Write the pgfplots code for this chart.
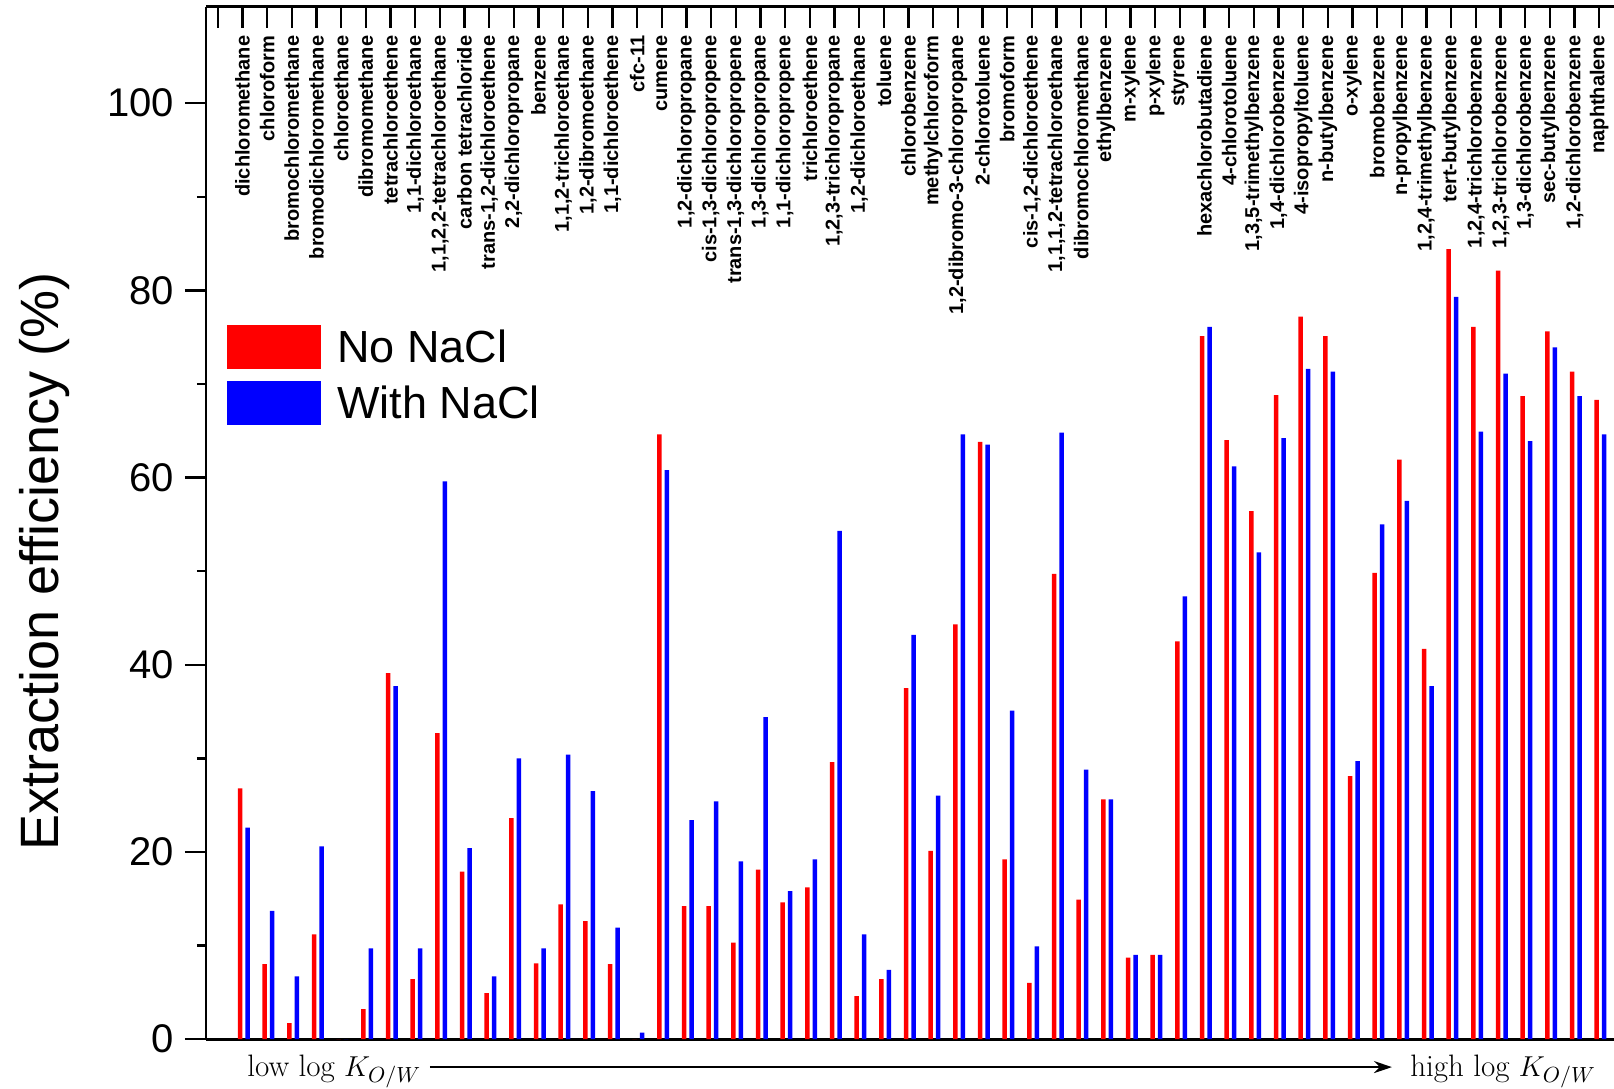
\documentclass[border=0pt]{standalone}
\usepackage{fontspec}
\usepackage{pgfplots}
\pgfplotsset{compat=1.18}
\usetikzlibrary{arrows.meta}
\newfontfamily\arial{Liberation Sans}

\begin{document}
\begin{tikzpicture}
\begin{axis}[
  name=ax,
  at={(0,0)}, anchor=south west,
  scale only axis, width=704pt, height=516.2pt,
  xmin=-0.48, xmax=56.6, ymin=0, ymax=110.3,
  axis y line*=left,
  axis line style={line width=1.4pt, black},
  clip=false,
  xtick={0,...,56},
  xticklabels={,dichloromethane,chloroform,bromochloromethane,bromodichloromethane,chloroethane,dibromomethane,tetrachloroethene,{1,1-dichloroethane},{1,1,2,2-tetrachloroethane},carbon tetrachloride,{trans-1,2-dichloroethene},{2,2-dichloropropane},benzene,{1,1,2-trichloroethane},{1,2-dibromoethane},{1,1-dichloroethene},cfc-11,cumene,{1,2-dichloropropane},{cis-1,3-dichloropropene},{trans-1,3-dichloropropene},{1,3-dichloropropane},{1,1-dichloropropene},trichloroethene,{1,2,3-trichloropropane},{1,2-dichloroethane},toluene,chlorobenzene,methylchloroform,{1,2-dibromo-3-chloropropane},2-chlorotoluene,bromoform,{cis-1,2-dichloroethene},{1,1,1,2-tetrachloroethane},dibromochloromethane,ethylbenzene,m-xylene,p-xylene,styrene,hexachlorobutadiene,4-chlorotoluene,{1,3,5-trimethylbenzene},{1,4-dichlorobenzene},4-isopropyltoluene,n-butylbenzene,o-xylene,bromobenzene,n-propylbenzene,{1,2,4-trimethylbenzene},tert-butylbenzene,{1,2,4-trichlorobenzene},{1,2,3-trichlorobenzene},{1,3-dichlorobenzene},sec-butylbenzene,{1,2-dichlorobenzene},naphthalene},
  xtick pos=right,
  xticklabel pos=right,
  xtick align=inside,
  ytick align=outside,
  ytick={0,20,40,60,80,100},
  minor ytick={10,30,50,70,90},
  major tick length=10.5pt,
  minor tick length=4.5pt,
  tick style={line width=1.2pt, black},
  /pgf/number format/assume math mode=true,
  yticklabel style={font=\arial\fontsize{20}{24}\selectfont, xshift=-2pt},
  xticklabel style={font=\arial\bfseries\fontsize{10}{12}\selectfont, rotate=90, anchor=east},
  xticklabel shift=-11pt,
  ylabel={Extraction efficiency (\%)},
  ylabel style={font=\arial\fontsize{27}{32}\selectfont, at={(rel axis cs:-0.1144,0.463)}, anchor=center},
  legend image code/.code={\fill[#1] (0pt,-11pt) rectangle (47pt,11pt);},
  legend style={at={(0.0149,0.6917)}, anchor=north west, draw=none, fill=none, inner sep=0pt,
    font=\arial\fontsize{22.5}{26}\selectfont, row sep=6pt,
    /tikz/every odd column/.append style={column sep=6pt}},
  legend cell align=left,
]
\addplot[ybar, bar width=2.25pt, bar shift=-1.25pt, fill=red, draw=none] coordinates {
(1,26.8) (2,8.0) (3,1.7) (4,11.2) (5,0) (6,3.2) (7,39.1) (8,6.4) (9,32.7) (10,17.9)
(11,4.9) (12,23.6) (13,8.1) (14,14.4) (15,12.6) (16,8.0) (17,0) (18,64.6) (19,14.2) (20,14.2)
(21,10.3) (22,18.1) (23,14.6) (24,16.2) (25,29.6) (26,4.6) (27,6.4) (28,37.5) (29,20.1) (30,44.3)
(31,63.8) (32,19.2) (33,6.0) (34,49.7) (35,14.9) (36,25.6) (37,8.7) (38,9.0) (39,42.5) (40,75.1)
(41,64.0) (42,56.4) (43,68.8) (44,77.2) (45,75.1) (46,28.1) (47,49.8) (48,61.9) (49,41.7) (50,84.4)
(51,76.1) (52,82.1) (53,68.7) (54,75.6) (55,71.3) (56,68.3)
};
\addlegendentry{No NaCl}
\addplot[ybar, bar width=2.25pt, bar shift=2.5pt, fill=blue, draw=none] coordinates {
(1,22.6) (2,13.7) (3,6.7) (4,20.6) (5,0) (6,9.7) (7,37.7) (8,9.7) (9,59.6) (10,20.4)
(11,6.7) (12,30.0) (13,9.7) (14,30.4) (15,26.5) (16,11.9) (17,0.7) (18,60.8) (19,23.4) (20,25.4)
(21,19.0) (22,34.4) (23,15.8) (24,19.2) (25,54.3) (26,11.2) (27,7.4) (28,43.2) (29,26.0) (30,64.6)
(31,63.5) (32,35.1) (33,9.9) (34,64.8) (35,28.8) (36,25.6) (37,9.0) (38,9.0) (39,47.3) (40,76.1)
(41,61.2) (42,52.0) (43,64.2) (44,71.6) (45,71.3) (46,29.7) (47,55.0) (48,57.5) (49,37.7) (50,79.3)
(51,64.9) (52,71.1) (53,63.9) (54,73.9) (55,68.7) (56,64.6)
};
\addlegendentry{With NaCl}
\draw[line width=1pt, -{Stealth[length=9pt,width=6pt]}] (rel axis cs:0.159,-0.0271) -- (rel axis cs:0.8423,-0.0271);
\node[anchor=base west, inner sep=0pt, font=\fontsize{15.5}{18}\selectfont] at (rel axis cs:0.0291,-0.0358) {low log $K_{O/W}$};
\node[anchor=base west, inner sep=0pt, font=\fontsize{15.5}{18}\selectfont] at (rel axis cs:0.855,-0.0358) {high log $K_{O/W}$};
\end{axis}
\pgfresetboundingbox
\path ([xshift=-103pt,yshift=-24.5pt]ax.south west) rectangle ([yshift=3.35pt]ax.north east);
\end{tikzpicture}
\end{document}
